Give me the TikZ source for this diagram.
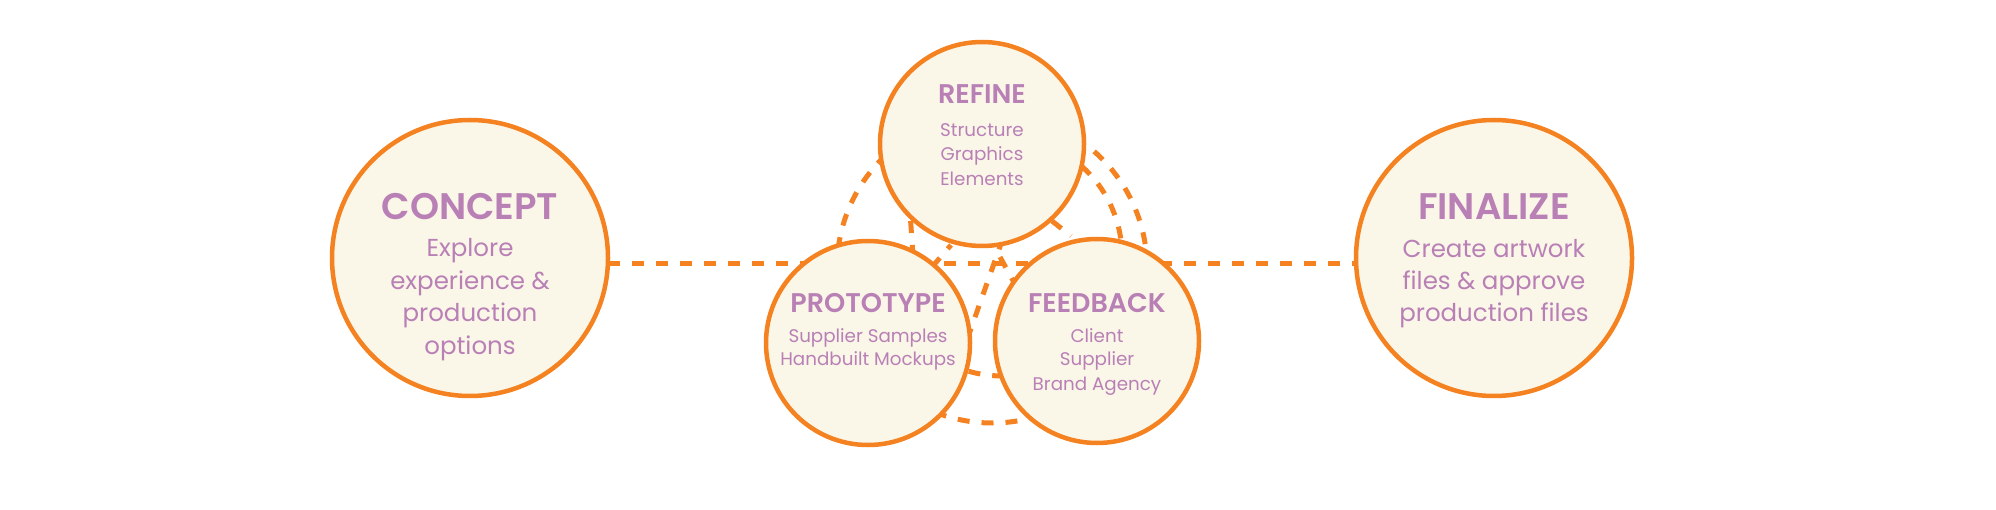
\documentclass[tikz,border=0pt]{standalone}
\usepackage{fontspec}
\setmainfont{Poppins}
\newfontfamily\headfont{Poppins SemiBold}
\usetikzlibrary{backgrounds}
\definecolor{ora}{RGB}{245,130,32}
\definecolor{mauve}{RGB}{185,128,182}
\definecolor{cream}{RGB}{250,246,232}
\begin{document}
\begin{tikzpicture}[x=1pt,y=1pt,
  stage/.style={circle,draw=ora,line width=4.5pt,fill=cream,inner sep=0pt,outer sep=0pt},
  bigstage/.style={stage,minimum size=276pt},
  smallstage/.style={stage,minimum size=204pt},
  dashline/.style={draw=ora,line width=5pt,dash pattern=on 12pt off 12pt},
  txt/.style={text=mauve,anchor=base,inner sep=0pt},
  bighead/.style={txt,font=\headfont\fontsize{37}{40}\selectfont},
  bigbody/.style={txt,font=\fontsize{24.5}{30}\selectfont},
  smallhead/.style={txt,font=\headfont\fontsize{27}{30}\selectfont},
  smallbody/.style={txt,font=\fontsize{18.3}{22}\selectfont}]
\useasboundingbox (0,0) rectangle (1996,509);
% circles
\node[bigstage] (concept) at (470,251) {};
\node[bigstage] (finalize) at (1494,251) {};
\node[smallstage] (refine) at (982,365) {};
\node[smallstage] (prototype) at (868,166) {};
\node[smallstage] (feedback) at (1097,168) {};
% helper coordinates
\coordinate (hl) at (0,245);
\coordinate (cyc) at (992,241);
\coordinate (inn) at (1002,253);
\coordinate (a1) at (909,312); \coordinate (b1) at (914,238);
\coordinate (a2) at (932,242); \coordinate (b2) at (951,264);
\coordinate (a3) at (1003,271); \coordinate (b3) at (968,172);
\coordinate (a4) at (1000,252); \coordinate (b4) at (1016,223);
\coordinate (a5) at (1052,288); \coordinate (b5) at (1071,273);
\begin{scope}[on background layer]
\draw[dashline] (concept.east |- hl) -- (finalize.west |- hl);
\draw[dashline] (cyc) circle[radius=155pt];
\draw[dashline] (inn) ++(60:120pt) arc[start angle=60,end angle=-130,radius=120pt];
\draw[dashline] (a1) -- (b1);
\draw[dashline] (a2) -- (b2);
\draw[dashline] (a3) -- (b3);
\draw[dashline] (a4) -- (b4);
\draw[dashline] (a5) -- (b5);
\end{scope}
% texts
\node[bighead] (tc0) at (470,289) {CONCEPT};
\node[bigbody] (tc1) at (470,252) {Explore};
\node[bigbody] (tc2) at (470,219.5) {experience \&};
\node[bigbody] (tc3) at (470,187) {production};
\node[bigbody] (tc4) at (470,154.5) {options};
\node[bighead] (tf0) at (1494,289) {FINALIZE};
\node[bigbody] (tf1) at (1494,251) {Create artwork};
\node[bigbody] (tf2) at (1494,219) {files \& approve};
\node[bigbody] (tf3) at (1494,187) {production files};
\node[smallhead] (tr0) at (982,405) {REFINE};
\node[smallbody] (tr1) at (982,372) {Structure};
\node[smallbody] (tr2) at (982,348) {Graphics};
\node[smallbody] (tr3) at (982,323.5) {Elements};
\node[smallhead] (tp0) at (868,196) {PROTOTYPE};
\node[smallbody] (tp1) at (868,167) {Supplier Samples};
\node[smallbody] (tp2) at (868,143) {Handbuilt Mockups};
\node[smallhead] (tb0) at (1097,196) {FEEDBACK};
\node[smallbody] (tb1) at (1097,167) {Client};
\node[smallbody] (tb2) at (1097,143) {Supplier};
\node[smallbody] (tb3) at (1097,119) {Brand Agency};
\end{tikzpicture}
\end{document}
